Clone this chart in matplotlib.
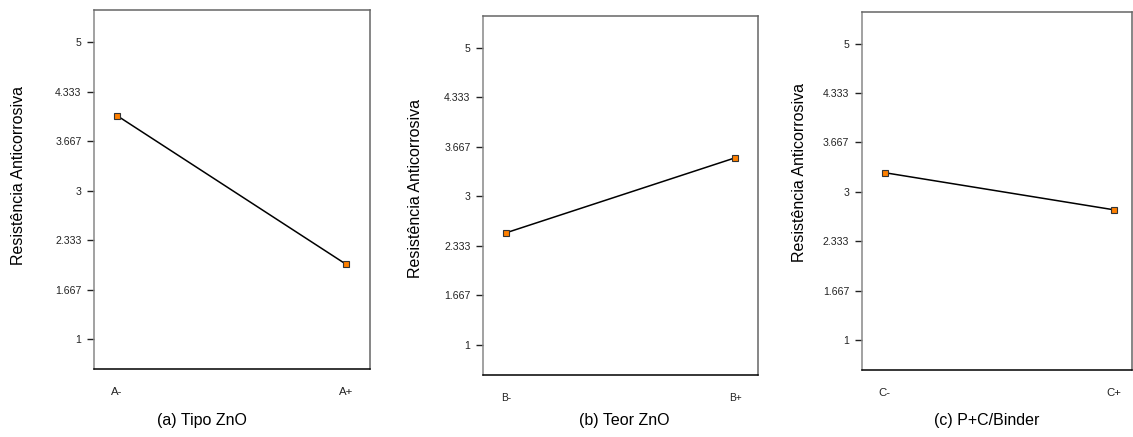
import matplotlib
matplotlib.use("Agg")
import matplotlib.pyplot as plt

plt.rcParams['font.family'] = ['Liberation Sans', 'DejaVu Sans']

# --- Data ---
levels_a = ["A-", "A+"]
levels_b = ["B-", "B+"]
levels_c = ["C-", "C+"]
resist_a = [4.01, 2.01]
resist_b = [2.51, 3.52]
resist_c = [3.26, 2.76]
yticks = [1, 1.667, 2.333, 3, 3.667, 4.333, 5]
ytick_labels = ["1", "1.667", "2.333", "3", "3.667", "4.333", "5"]
captions = ["(a) Tipo ZnO", "(b) Teor ZnO", "(c) P+C/Binder"]
ylabel = "Resistência Anticorrosiva"

W, H = 1133, 437
fig = plt.figure(figsize=(W / 100, H / 100), dpi=100)


def px_axes(left, top, right, bottom):
    return fig.add_axes([left / W, 1 - bottom / H, (right - left) / W, (bottom - top) / H])


# panel boxes in pixels: left, top, right, bottom
boxes = [(94, 10, 370, 369), (483, 16, 758, 374.7), (861.7, 11.7, 1132, 370)]
xlims = [(-0.1, 1.105), (-0.1, 1.1), (-0.1, 1.08)]
xtick_sizes = [8.2, 7.3, 8.2]
ylab_pos = [(18.3, 175.5), (416, 188), (800, 172.7)]
cap_pos = [(202, 421), (624.5, 421), (987, 421)]

panels = [(levels_a, resist_a), (levels_b, resist_b), (levels_c, resist_c)]

for i, (levels, vals) in enumerate(panels):
    ax = px_axes(*boxes[i])
    ax.plot([0, 1], vals, color="black", lw=1.1, zorder=2)
    ax.plot([0, 1], vals, ls="none", marker="s", markersize=4.8,
            markerfacecolor="#ff8000", markeredgecolor="#333333",
            markeredgewidth=0.8, zorder=3)
    ax.set_xlim(*xlims[i])
    ax.set_ylim(0.6, 5.43)
    ax.set_yticks(yticks)
    ax.set_yticklabels(ytick_labels, fontsize=7.6, color="#222222")
    ax.set_xticks([0, 1])
    ax.set_xticklabels(levels, fontsize=xtick_sizes[i], color="#222222")
    ax.tick_params(axis="y", length=5, width=1, pad=4, color="#222222")
    ax.tick_params(axis="x", length=0, pad=13)
    ax.spines["left"].set_color("#888888")
    ax.spines["bottom"].set_color("black")
    ax.spines["top"].set_color("#666666")
    ax.spines["right"].set_color("#666666")
    for s in ax.spines.values():
        s.set_linewidth(1.1)

    fig.text(ylab_pos[i][0] / W, 1 - ylab_pos[i][1] / H, ylabel,
             rotation=90, ha="center", va="center", fontsize=11.5)
    fig.text(cap_pos[i][0] / W, 1 - cap_pos[i][1] / H, captions[i],
             ha="center", va="center", fontsize=11.5)

fig.savefig("out.png", dpi=100)
